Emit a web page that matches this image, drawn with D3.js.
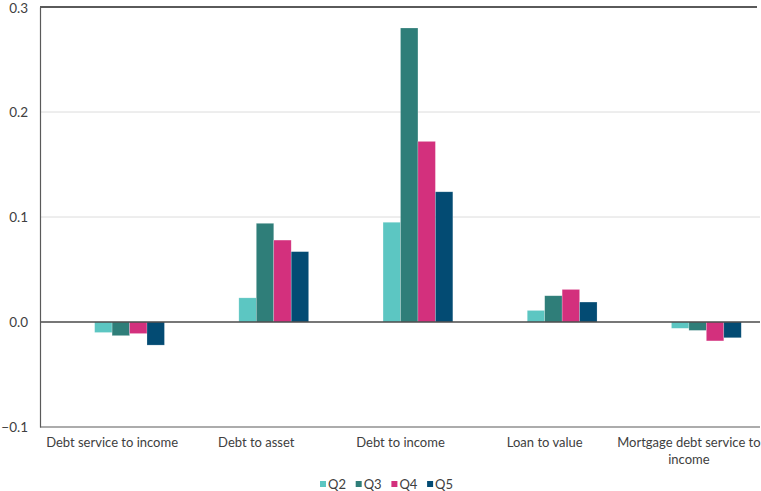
<!DOCTYPE html>
<html>
<head>
<meta charset="utf-8">
<script src="https://cdn.jsdelivr.net/npm/d3@7"></script>
<style>
  html, body { margin: 0; padding: 0; background: #fff; }
  svg { display: block; font-family: Lato, "Open Sans", sans-serif; }
</style>
</head>
<body>
<svg id="chart" width="761" height="491"></svg>
<script>
// Measures compared across quintiles (Q2–Q5)
const categories = ["Debt service to income", "Debt to asset", "Debt to income", "Loan to value", "Mortgage debt service to income"];
const seriesNames = ["Q2", "Q3", "Q4", "Q5"];
const q2 = [-0.010, 0.023, 0.095, 0.011, -0.006];
const q3 = [-0.013, 0.094, 0.280, 0.025, -0.008];
const q4 = [-0.011, 0.078, 0.172, 0.031, -0.018];
const q5 = [-0.022, 0.067, 0.124, 0.019, -0.015];
const yTicks = [-0.1, 0.0, 0.1, 0.2, 0.3];
const colors = ["#5cc6c2", "#2f7e79", "#d3307d", "#034b73"];

const seriesValues = [q2, q3, q4, q5];

const svg = d3.select("#chart");
const margin = { left: 40, right: 0, top: 7, bottom: 64 };
const W = 761, H = 491;
const plotL = margin.left, plotR = W - margin.right;
const plotT = margin.top, plotB = H - margin.bottom;

const y = d3.scaleLinear().domain([-0.1, 0.3]).range([plotB, plotT]);
const x = d3.scaleBand().domain(categories).range([plotL, plotR]).padding(0);
const bw = x.bandwidth();
// cluster of four bars sits slightly right of each band's centre
const inner = d3.scaleBand().domain(seriesNames).range([bw * 0.379, bw * 0.863]).padding(0);

// gridlines
svg.append("g")
  .selectAll("line")
  .data(yTicks.filter(t => t !== 0 && t !== -0.1 && t !== 0.3))
  .join("line")
  .attr("x1", plotL).attr("x2", plotR - 1)
  .attr("y1", d => y(d)).attr("y2", d => y(d))
  .attr("stroke", "#dcdcdc").attr("stroke-width", 1);

// bars
const rows = [];
categories.forEach((c, i) => {
  seriesNames.forEach((s, j) => rows.push({ c, s, j, v: seriesValues[j][i] }));
});
svg.append("g")
  .selectAll("rect")
  .data(rows)
  .join("rect")
  .attr("x", d => x(d.c) + inner(d.s))
  .attr("width", inner.bandwidth())
  .attr("y", d => y(Math.max(0, d.v)))
  .attr("height", d => Math.abs(y(d.v) - y(0)))
  .attr("fill", d => colors[d.j])
  .attr("stroke", "#ffffff").attr("stroke-opacity", 0.35).attr("stroke-width", 0.6);

// frame lines
svg.append("line").attr("x1", plotL).attr("x2", plotR - 4).attr("y1", plotT).attr("y2", plotT)
  .attr("stroke", "#5a5a5a").attr("stroke-width", 2);
svg.append("line").attr("x1", plotL).attr("x2", plotR - 1).attr("y1", plotB).attr("y2", plotB)
  .attr("stroke", "#5a5a5a").attr("stroke-width", 1.2);
svg.append("line").attr("x1", plotL).attr("x2", plotR - 1).attr("y1", y(0)).attr("y2", y(0))
  .attr("stroke", "#4a4a4a").attr("stroke-width", 1.3);

// y axis
const yAxis = d3.axisLeft(y).tickValues(yTicks).tickFormat(d3.format(".1f")).tickSize(0).tickPadding(12);
const ya = svg.append("g").attr("transform", `translate(${plotL},0)`).call(yAxis);
ya.select(".domain").attr("stroke", "#5a5a5a").attr("stroke-width", 1.2);
ya.selectAll("text").attr("font-size", 13.5).attr("fill", "#404040")
  .attr("font-family", "Lato, sans-serif").text(d => d3.format(".1f")(d));
// keep the top label inside the drawing area
ya.selectAll("text").filter(d => d === 0.3).attr("dy", "0.4em");

// x axis labels (wrapped)
const xAxis = d3.axisBottom(x).tickSize(0).tickPadding(11);
const xa = svg.append("g").attr("transform", `translate(0,${plotB})`).call(xAxis);
xa.select(".domain").remove();
xa.selectAll("text").attr("font-size", 13).attr("fill", "#404040").attr("font-family", "Lato, sans-serif")
  .each(function(d) {
    const t = d3.select(this);
    const lines = d === "Mortgage debt service to income" ? ["Mortgage debt service to", "income"] : [d];
    t.text(null);
    lines.forEach((ln, k) => t.append("tspan").attr("x", 0).attr("dy", k === 0 ? "0.71em" : "1.3em").text(ln));
  });

// legend
const legend = svg.append("g").attr("transform", `translate(320,484)`);
seriesNames.forEach((s, i) => {
  const g = legend.append("g").attr("transform", `translate(${i * 35.7},0)`);
  g.append("rect").attr("x", 0).attr("y", -3).attr("width", 6).attr("height", 6).attr("fill", colors[i]);
  g.append("text").attr("x", 8).attr("y", 0).attr("dy", "0.35em")
    .attr("font-size", 13).attr("fill", "#404040").attr("font-family", "Lato, sans-serif").text(s);
});
</script>
</body>
</html>
